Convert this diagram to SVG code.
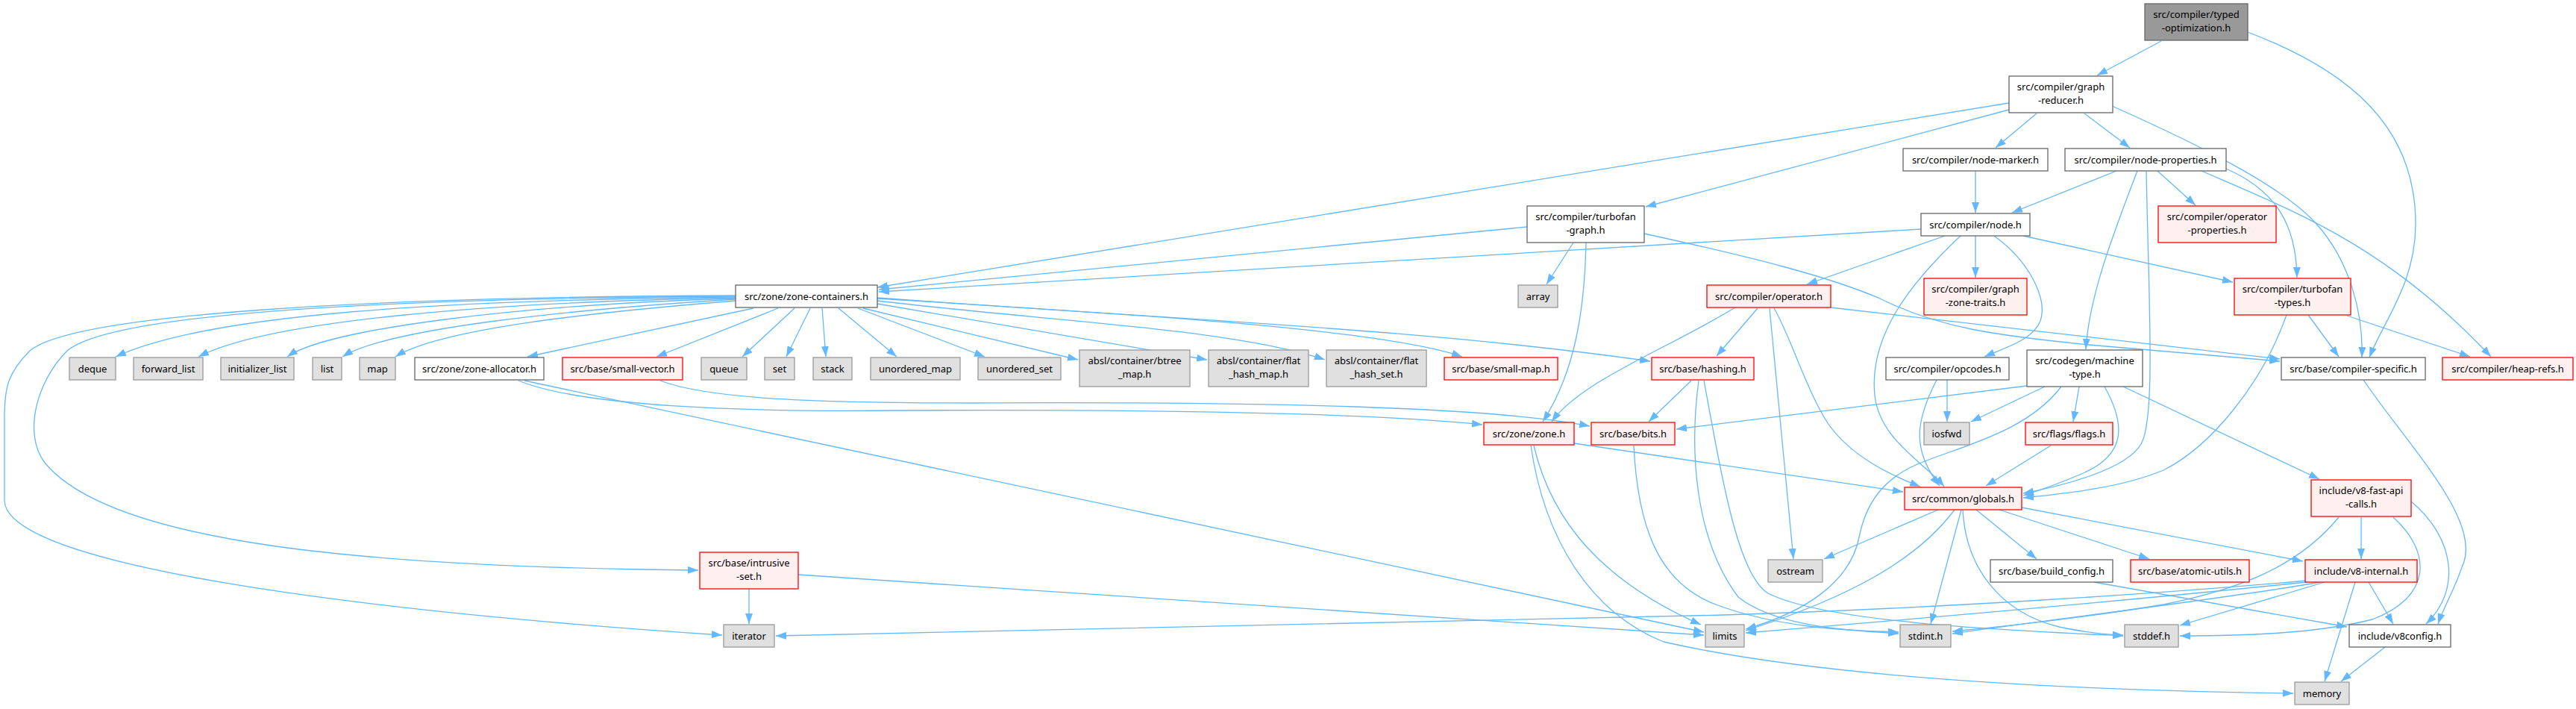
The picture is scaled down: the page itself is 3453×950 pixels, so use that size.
<svg xmlns="http://www.w3.org/2000/svg" width="3453" height="950" viewBox="0 0 3453 950">
<style>
text{font-family:"Noto Sans","DejaVu Sans",sans-serif;font-size:13px;text-anchor:middle;fill:#000}
.w{fill:#fff;stroke:#666;stroke-width:1.3}
.r{fill:#fff0f0;stroke:#f00;stroke-width:1.3}
.g{fill:#e0e0e0;stroke:#999;stroke-width:1.3}
.k{fill:#999;stroke:#666;stroke-width:1.3}
#edges path{fill:none;stroke:#63b8ff;stroke-width:1.3;marker-end:url(#a)}
</style>
<defs>
<marker id="a" markerUnits="userSpaceOnUse" markerWidth="14" markerHeight="10" viewBox="0 0 14 10" refX="14" refY="5" orient="auto"><path d="M0,0 L14,5 L0,10 z" fill="#63b8ff"/></marker>
</defs>
<rect width="3453" height="950" fill="#fff"/>
<g id="edges">
<path d="M2897,55 L2811,101"/>
<path d="M3013,43 C3150,95 3238,170 3238,300 C3238,380 3195,430 3176,479"/>
<path d="M2693,138 L1176,385"/>
<path d="M2693,147 L2206,277"/>
<path d="M2730,152 L2675,198"/>
<path d="M2794,152 L2855,198"/>
<path d="M2831,142 C2950,195 3060,250 3105,300 C3150,350 3168,420 3166,479"/>
<path d="M2648,228 L2648,285"/>
<path d="M2837,229 L2697,285"/>
<path d="M2892,229 L2943,275"/>
<path d="M2865,229 C2830,320 2800,400 2796,468"/>
<path d="M2877,229 C2880,400 2890,560 2870,595 C2850,630 2760,652 2712,661"/>
<path d="M2984,226 C3050,255 3078,300 3079,372"/>
<path d="M2951,229 C3080,285 3200,330 3339,478"/>
<path d="M2575,307 L1178,391"/>
<path d="M2607,316 L2422,381"/>
<path d="M2628,316 C2560,380 2505,450 2513,530 C2520,590 2580,620 2606,652"/>
<path d="M2648,316 L2648,372"/>
<path d="M2673,316 C2720,350 2745,400 2735,430 C2725,455 2690,465 2660,478"/>
<path d="M2712,316 L2993,378"/>
<path d="M2047,304 L1178,388"/>
<path d="M2109,325 L2073,381"/>
<path d="M2126,325 C2124,420 2110,500 2068,565"/>
<path d="M2204,313 C2350,345 2450,370 2520,400 C2600,440 2680,450 2800,462 L3056,484"/>
<path d="M2356,413 L2301,477"/>
<path d="M2326,412 C2230,470 2120,510 2080,565"/>
<path d="M2372,413 L2404,749"/>
<path d="M2378,413 C2400,450 2420,520 2450,567 C2480,610 2530,635 2574,652"/>
<path d="M2454,412 L3056,481"/>
<path d="M986,398 C600,402 280,420 155,478"/>
<path d="M986,399 C650,405 360,430 266,478"/>
<path d="M986,400 C700,408 440,440 385,478"/>
<path d="M986,401 C760,415 520,440 459,478"/>
<path d="M986,403 C800,418 590,440 530,478"/>
<path d="M1010,413 L707,478"/>
<path d="M1043,413 L880,478"/>
<path d="M1065,413 L995,478"/>
<path d="M1086,413 L1054,478"/>
<path d="M1102,413 L1107,478"/>
<path d="M1124,413 L1202,478"/>
<path d="M1150,413 L1320,478"/>
<path d="M1157,413 L1445,482"/>
<path d="M1176,407 L1618,482"/>
<path d="M1176,403 C1400,430 1650,440 1776,482"/>
<path d="M1176,400 C1500,420 1850,440 1960,478"/>
<path d="M1176,399 C1600,430 1900,440 2212,484"/>
<path d="M986,396 C500,398 100,420 40,470 C10,500 6,520 6,560 L6,670 C6,760 500,820 968,851"/>
<path d="M986,397 C500,400 150,420 90,470 C50,510 30,580 60,620 C150,730 500,760 936,764"/>
<path d="M695,510 C780,545 1000,552 1200,550 C1600,548 1850,555 1987,569"/>
<path d="M703,510 L2284,847"/>
<path d="M885,510 C950,535 1100,540 1300,540 C1700,538 2000,545 2131,571"/>
<path d="M1004,789 L1004,836"/>
<path d="M1070,770 L2284,851"/>
<path d="M2267,510 L2210,565"/>
<path d="M2277,510 C2265,600 2270,720 2330,800 C2380,840 2480,845 2545,849"/>
<path d="M2284,510 C2310,650 2330,770 2370,795 C2450,835 2700,845 2846,852"/>
<path d="M2190,597 C2195,700 2220,780 2300,810 C2380,840 2470,845 2545,847"/>
<path d="M2110,594 L2551,659"/>
<path d="M2056,597 C2080,700 2150,780 2280,837"/>
<path d="M2052,597 C2070,720 2130,820 2230,860 C2450,910 2800,925 3074,929"/>
<path d="M2717,517 L2247,575"/>
<path d="M2741,518 L2642,565"/>
<path d="M2763,518 C2720,575 2640,595 2580,618 C2520,640 2500,680 2492,720 C2480,780 2420,820 2340,843"/>
<path d="M2787,518 L2779,565"/>
<path d="M2821,518 C2850,570 2850,610 2790,635 C2760,648 2740,655 2712,664"/>
<path d="M2846,518 L3109,642"/>
<path d="M2610,509 L2610,565"/>
<path d="M2596,509 C2570,560 2560,600 2600,651"/>
<path d="M2749,597 L2662,651"/>
<path d="M3094,422 L3135,478"/>
<path d="M3146,423 L3311,478"/>
<path d="M3065,422 C3030,520 2960,600 2900,630 C2840,655 2760,662 2712,667"/>
<path d="M3168,509 C3230,600 3330,700 3300,760 C3290,790 3275,815 3268,836"/>
<path d="M3165,693 L3165,749"/>
<path d="M3135,693 C3080,760 3000,790 2900,810 C2780,830 2680,840 2617,846"/>
<path d="M3208,693 C3260,740 3260,800 3180,830 C3100,850 3000,852 2922,852"/>
<path d="M3232,672 C3290,720 3300,790 3252,836"/>
<path d="M3092,780 C2800,810 2500,835 2340,848"/>
<path d="M3092,778 C2900,795 2600,815 2310,824 L1040,852"/>
<path d="M3110,780 C3000,800 2750,830 2617,849"/>
<path d="M3116,780 L2922,838"/>
<path d="M3157,780 L3116,913"/>
<path d="M3175,780 L3208,836"/>
<path d="M2598,683 L2445,749"/>
<path d="M2620,683 C2570,750 2480,800 2340,845"/>
<path d="M2629,683 L2588,836"/>
<path d="M2631,683 C2635,760 2680,820 2760,840 C2800,848 2820,850 2846,851"/>
<path d="M2649,683 L2730,749"/>
<path d="M2680,683 L2881,749"/>
<path d="M2710,680 L3087,752"/>
<path d="M2807,780 L3146,840"/>
<path d="M3197,867 L3138,913"/>
</g>
<g id="n1"><rect class="k" x="2875" y="5" width="138" height="49"/><text x="2944" y="23.5">src/compiler/typed</text><text x="2944" y="41.5">-optimization.h</text></g>
<g id="n2"><rect class="w" x="2693" y="102" width="139" height="49"/><text x="2762.5" y="120.5">src/compiler/graph</text><text x="2762.5" y="138.5">-reducer.h</text></g>
<g id="n3"><rect class="w" x="2551" y="199" width="194" height="30"/><text x="2648" y="218.5">src/compiler/node-marker.h</text></g>
<g id="n4"><rect class="w" x="2768" y="199" width="216" height="30"/><text x="2876" y="218.5">src/compiler/node-properties.h</text></g>
<g id="n5"><rect class="w" x="2047" y="276" width="157" height="49"/><text x="2125.5" y="294.5">src/compiler/turbofan</text><text x="2125.5" y="312.5">-graph.h</text></g>
<g id="n6"><rect class="w" x="2575" y="286" width="146" height="30"/><text x="2648" y="305.5">src/compiler/node.h</text></g>
<g id="n7"><rect class="r" x="2893" y="276" width="158" height="49"/><text x="2972" y="294.5">src/compiler/operator</text><text x="2972" y="312.5">-properties.h</text></g>
<g id="n8"><rect class="w" x="986" y="382" width="190" height="30"/><text x="1081" y="401.5">src/zone/zone-containers.h</text></g>
<g id="n9"><rect class="g" x="2035" y="382" width="53" height="30"/><text x="2061.5" y="401.5">array</text></g>
<g id="n10"><rect class="r" x="2288" y="382" width="166" height="30"/><text x="2371" y="401.5">src/compiler/operator.h</text></g>
<g id="n11"><rect class="r" x="2579" y="373" width="138" height="49"/><text x="2648" y="391.5">src/compiler/graph</text><text x="2648" y="409.5">-zone-traits.h</text></g>
<g id="n12"><rect class="r" x="2995" y="373" width="156" height="49"/><text x="3073" y="391.5">src/compiler/turbofan</text><text x="3073" y="409.5">-types.h</text></g>
<g id="n13"><rect class="g" x="93" y="479" width="62" height="30"/><text x="124" y="498.5">deque</text></g>
<g id="n14"><rect class="g" x="179" y="479" width="93" height="30"/><text x="225.5" y="498.5">forward_list</text></g>
<g id="n15"><rect class="g" x="296" y="479" width="98" height="30"/><text x="345" y="498.5">initializer_list</text></g>
<g id="n16"><rect class="g" x="419" y="479" width="39" height="30"/><text x="438.5" y="498.5">list</text></g>
<g id="n17"><rect class="g" x="482" y="479" width="48" height="30"/><text x="506" y="498.5">map</text></g>
<g id="n18"><rect class="w" x="556" y="479" width="173" height="30"/><text x="642.5" y="498.5">src/zone/zone-allocator.h</text></g>
<g id="n19"><rect class="r" x="754" y="479" width="161" height="30"/><text x="834.5" y="498.5">src/base/small-vector.h</text></g>
<g id="n20"><rect class="g" x="940" y="479" width="61" height="30"/><text x="970.5" y="498.5">queue</text></g>
<g id="n21"><rect class="g" x="1025" y="479" width="40" height="30"/><text x="1045" y="498.5">set</text></g>
<g id="n22"><rect class="g" x="1090" y="479" width="52" height="30"/><text x="1116" y="498.5">stack</text></g>
<g id="n23"><rect class="g" x="1167" y="479" width="120" height="30"/><text x="1227" y="498.5">unordered_map</text></g>
<g id="n24"><rect class="g" x="1311" y="479" width="111" height="30"/><text x="1366.5" y="498.5">unordered_set</text></g>
<g id="n25"><rect class="g" x="1447" y="469" width="148" height="49"/><text x="1521" y="487.5">absl/container/btree</text><text x="1521" y="505.5">_map.h</text></g>
<g id="n26"><rect class="g" x="1620" y="469" width="134" height="49"/><text x="1687" y="487.5">absl/container/flat</text><text x="1687" y="505.5">_hash_map.h</text></g>
<g id="n27"><rect class="g" x="1778" y="469" width="134" height="49"/><text x="1845" y="487.5">absl/container/flat</text><text x="1845" y="505.5">_hash_set.h</text></g>
<g id="n28"><rect class="r" x="1936" y="479" width="152" height="30"/><text x="2012" y="498.5">src/base/small-map.h</text></g>
<g id="n29"><rect class="r" x="2214" y="479" width="137" height="30"/><text x="2282.5" y="498.5">src/base/hashing.h</text></g>
<g id="n30"><rect class="w" x="2528" y="479" width="165" height="30"/><text x="2610.5" y="498.5">src/compiler/opcodes.h</text></g>
<g id="n31"><rect class="w" x="2717" y="469" width="155" height="49"/><text x="2794.5" y="487.5">src/codegen/machine</text><text x="2794.5" y="505.5">-type.h</text></g>
<g id="n32"><rect class="w" x="3058" y="479" width="193" height="30"/><text x="3154.5" y="498.5">src/base/compiler-specific.h</text></g>
<g id="n33"><rect class="r" x="3274" y="479" width="175" height="30"/><text x="3361.5" y="498.5">src/compiler/heap-refs.h</text></g>
<g id="n34"><rect class="r" x="1989" y="566" width="121" height="30"/><text x="2049.5" y="585.5">src/zone/zone.h</text></g>
<g id="n35"><rect class="r" x="2133" y="566" width="112" height="30"/><text x="2189" y="585.5">src/base/bits.h</text></g>
<g id="n36"><rect class="g" x="2579" y="566" width="61" height="30"/><text x="2609.5" y="585.5">iosfwd</text></g>
<g id="n37"><rect class="r" x="2715" y="566" width="117" height="30"/><text x="2773.5" y="585.5">src/flags/flags.h</text></g>
<g id="n38"><rect class="r" x="2553" y="653" width="157" height="30"/><text x="2631.5" y="672.5">src/common/globals.h</text></g>
<g id="n39"><rect class="r" x="3098" y="643" width="134" height="49"/><text x="3165" y="661.5">include/v8-fast-api</text><text x="3165" y="679.5">-calls.h</text></g>
<g id="n40"><rect class="r" x="938" y="740" width="132" height="49"/><text x="1004" y="758.5">src/base/intrusive</text><text x="1004" y="776.5">-set.h</text></g>
<g id="n41"><rect class="g" x="2370" y="750" width="73" height="30"/><text x="2406.5" y="769.5">ostream</text></g>
<g id="n42"><rect class="w" x="2668" y="750" width="164" height="30"/><text x="2750" y="769.5">src/base/build_config.h</text></g>
<g id="n43"><rect class="r" x="2856" y="750" width="159" height="30"/><text x="2935.5" y="769.5">src/base/atomic-utils.h</text></g>
<g id="n44"><rect class="r" x="3090" y="750" width="150" height="30"/><text x="3165" y="769.5">include/v8-internal.h</text></g>
<g id="n45"><rect class="g" x="970" y="837" width="68" height="30"/><text x="1004" y="856.5">iterator</text></g>
<g id="n46"><rect class="g" x="2286" y="837" width="52" height="30"/><text x="2312" y="856.5">limits</text></g>
<g id="n47"><rect class="g" x="2547" y="837" width="68" height="30"/><text x="2581" y="856.5">stdint.h</text></g>
<g id="n48"><rect class="g" x="2848" y="837" width="72" height="30"/><text x="2884" y="856.5">stddef.h</text></g>
<g id="n49"><rect class="w" x="3149" y="837" width="136" height="30"/><text x="3217" y="856.5">include/v8config.h</text></g>
<g id="n50"><rect class="g" x="3076" y="914" width="73" height="30"/><text x="3112.5" y="933.5">memory</text></g>
</svg>
